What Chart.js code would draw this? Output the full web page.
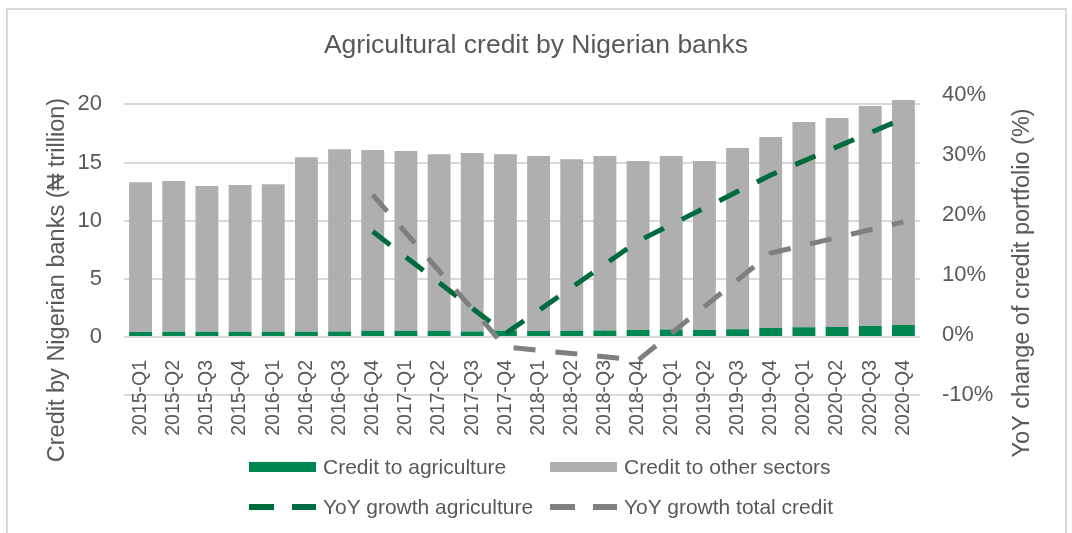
<!DOCTYPE html>
<html>
<head>
<meta charset="utf-8">
<title>Agricultural credit by Nigerian banks</title>
<script src="https://cdn.jsdelivr.net/npm/chart.js@4.4.1/dist/chart.umd.min.js"></script>
<style>
  html, body { margin: 0; padding: 0; background: #fff; overflow: hidden; }
  #wrap { position: relative; width: 1072px; height: 533px; }
  #frame { position: absolute; left: 6px; top: 8px; width: 1061px; height: 700px; border: 2px solid #d9d9d9; box-sizing: border-box; }
  #chart { position: absolute; left: 0; top: 0; }
  #legend { position: absolute; left: 249px; top: 447px; display: grid; grid-template-columns: 301px auto; grid-auto-rows: 40px; font: 21px 'Liberation Sans', Arial, sans-serif; color: #595959; }
  .item { display: flex; align-items: center; white-space: nowrap; }
  .swatch { display: inline-block; width: 67px; margin-right: 7px; }
</style>
</head>
<body>
<div id="wrap">
  <div id="frame"></div>
  <canvas id="chart" width="1072" height="533"></canvas>
  <div id="legend"></div>
</div>
<script>
const quarters = [
  '2015-Q1', '2015-Q2', '2015-Q3', '2015-Q4',
  '2016-Q1', '2016-Q2', '2016-Q3', '2016-Q4',
  '2017-Q1', '2017-Q2', '2017-Q3', '2017-Q4',
  '2018-Q1', '2018-Q2', '2018-Q3', '2018-Q4',
  '2019-Q1', '2019-Q2', '2019-Q3', '2019-Q4',
  '2020-Q1', '2020-Q2', '2020-Q3', '2020-Q4'
]

// ₦ trillion
const agriCredit = [0.43, 0.44, 0.44, 0.45, 0.45, 0.45, 0.46, 0.52, 0.52, 0.53, 0.47, 0.52,
  0.50, 0.52, 0.54, 0.60, 0.64, 0.60, 0.65, 0.76, 0.83, 0.84, 0.93, 1.03]
const otherCredit = [12.88, 12.96, 12.53, 12.61, 12.69, 15.01, 15.69, 15.55, 15.46, 15.19, 15.34, 15.20,
  15.05, 14.77, 15.01, 14.52, 14.91, 14.52, 15.59, 16.43, 17.65, 17.99, 18.93, 19.34]

// YoY growth (%), only reported for Q4
const agriGrowth = [null, null, null, null, null, null, null, 17.2, null, null, null, 0.2,
  null, null, null, 15.6, null, null, null, 26.6, null, null, null, 36.0]
const totalGrowth = [null, null, null, null, null, null, null, 23.3, null, null, null, -2.0,
  null, null, null, -4.2, null, null, null, 13.6, null, null, null, 18.8]

const leftTicks = [-5, 0, 5, 10, 15, 20]
const rightTicks = [-10, 0, 10, 20, 30, 40]

const chartTitle = 'Agricultural credit by Nigerian banks'
const leftTitle = 'Credit by Nigerian banks (\u20A6 trillion)'
const rightTitle = 'YoY change of credit portfolio (%)'

const textColor = '#595959'
const fontFamily = "'Liberation Sans', Arial, sans-serif"

Chart.defaults.font.family = fontFamily
Chart.defaults.color = textColor

// both axis titles read bottom-to-top
const axisTitles = {
  id: 'axisTitles',
  afterDraw (chart) {
    const ctx = chart.ctx
    const drawVertical = (text, x, y) => {
      ctx.save()
      ctx.translate(x, y)
      ctx.rotate(-Math.PI / 2)
      ctx.fillText(text, 0, 0)
      ctx.restore()
    }
    ctx.save()
    ctx.font = '23.5px ' + fontFamily
    ctx.fillStyle = textColor
    ctx.textAlign = 'center'
    ctx.textBaseline = 'middle'
    drawVertical(leftTitle, 58, 280)
    drawVertical(rightTitle, 1023, 283)
    ctx.restore()
  }
}

const chart = new Chart(document.getElementById('chart'), {
  data: {
    labels: quarters,
    datasets: [
      {
        type: 'bar',
        label: 'Credit to agriculture',
        data: agriCredit,
        backgroundColor: '#008751',
        yAxisID: 'y',
        order: 2
      },
      {
        type: 'bar',
        label: 'Credit to other sectors',
        data: otherCredit,
        backgroundColor: '#afafaf',
        yAxisID: 'y',
        order: 3
      },
      {
        type: 'line',
        label: 'YoY growth agriculture',
        data: agriGrowth,
        yAxisID: 'y1',
        borderColor: '#006b3c',
        borderWidth: 5,
        borderDash: [22, 20],
        pointRadius: 0,
        spanGaps: true,
        tension: 0,
        order: 1
      },
      {
        type: 'line',
        label: 'YoY growth total credit',
        data: totalGrowth,
        yAxisID: 'y1',
        borderColor: '#7f7f7f',
        borderWidth: 5,
        borderDash: [22, 20],
        pointRadius: 0,
        spanGaps: true,
        tension: 0,
        order: 0
      }
    ]
  },
  options: {
    responsive: false,
    animation: false,
    devicePixelRatio: 1,
    layout: { padding: { left: 0, right: 0, top: 0, bottom: 138 } },
    datasets: {
      bar: { categoryPercentage: 0.69, barPercentage: 1 }
    },
    plugins: {
      legend: { display: false },
      tooltip: { enabled: false },
      title: {
        display: true,
        text: chartTitle,
        color: textColor,
        font: { size: 26.5, weight: 'normal' },
        padding: { top: 29.4, bottom: 33.3 }
      }
    },
    scales: {
      x: {
        position: { y: 0 },
        stacked: true,
        grid: { display: false, drawTicks: false },
        border: { display: false },
        ticks: { minRotation: 90, maxRotation: 90, autoSkip: false, padding: 23, font: { size: 19.5 } }
      },
      y: {
        position: 'left',
        stacked: true,
        min: -5,
        max: 20.85,
        afterBuildTicks: scale => { scale.ticks = leftTicks.map(v => ({ value: v })) },
        afterFit: scale => { scale.width = 124 },
        grid: { color: '#d9d9d9', lineWidth: 2, drawTicks: false },
        border: { display: false },
        ticks: { padding: 22, font: { size: 22 }, callback: v => (v < 0 ? '' : v) }
      },
      y1: {
        position: 'right',
        min: -10,
        max: 40,
        afterBuildTicks: scale => { scale.ticks = rightTicks.map(v => ({ value: v })) },
        afterFit: scale => { scale.width = 152 },
        grid: { display: false, drawTicks: false },
        border: { display: false },
        ticks: { padding: 22, font: { size: 22 }, callback: v => v + '%' }
      }
    }
  },
  plugins: [axisTitles]
})

// legend laid out as a 2x2 grid under the plot
const legendEl = document.getElementById('legend')
chart.data.datasets.forEach(ds => {
  const item = document.createElement('div')
  item.className = 'item'
  const swatch = document.createElement('span')
  swatch.className = 'swatch'
  if (ds.type === 'bar') {
    swatch.style.height = '10px'
    swatch.style.background = ds.backgroundColor
  } else {
    swatch.style.height = '6px'
    swatch.style.background = 'repeating-linear-gradient(to right, ' + ds.borderColor + ' 0 25px, transparent 25px 43px)'
  }
  item.appendChild(swatch)
  item.appendChild(document.createTextNode(ds.label))
  legendEl.appendChild(item)
})
</script>
</body>
</html>
